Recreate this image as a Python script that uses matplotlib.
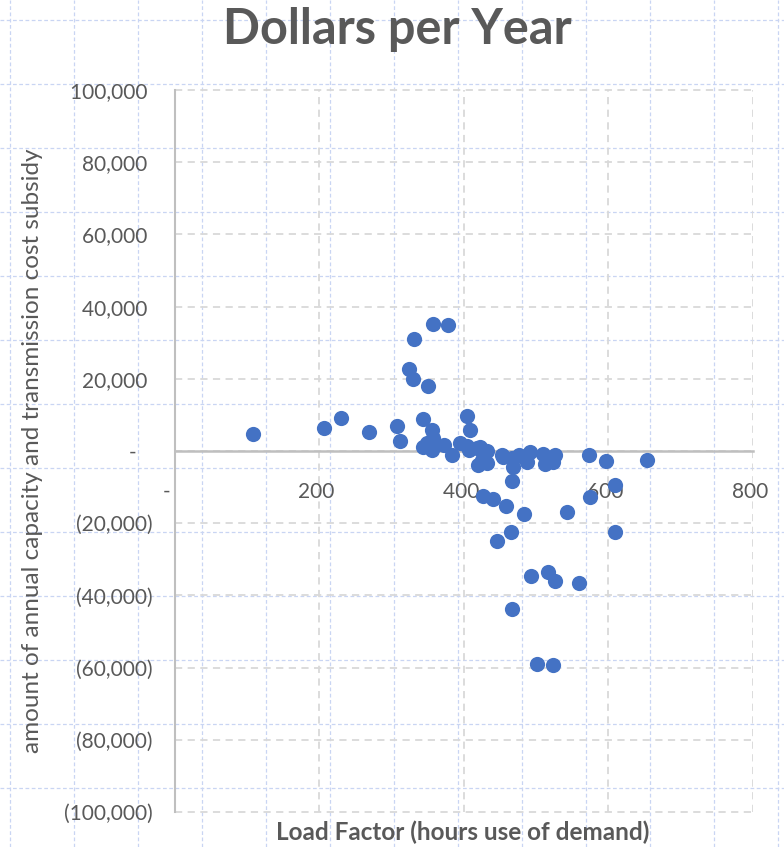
import numpy as np
import matplotlib
matplotlib.use('Agg')
import matplotlib.pyplot as plt
from matplotlib.ticker import FuncFormatter, MultipleLocator

# --Data--
load_factor = [108, 206, 230, 269, 308, 312, 331, 324, 330, 350, 357, 378,
               344, 356, 344, 356, 358, 349, 372, 384, 395, 405, 409, 404,
               407, 418, 423, 420, 425, 432, 432, 453, 455, 467, 468, 467,
               476, 483, 492, 487, 510, 513, 527, 524, 574, 597, 654, 610,
               575, 543, 427, 440, 459, 483, 465, 446, 609, 493, 517, 527,
               559, 467, 501, 523]
subsidy = [4700, 6300, 9200, 5200, 6800, 2900, 31000, 22700, 19900, 18000,
           35100, 34900, 9000, 5700, 1000, 300, 3500, 2100, 1700, -1100,
           2100, 9800, 5800, 1400, 300, 700, 1200, -3900, -2500, 100, -3400,
           -1200, -1600, -2000, -4300, -8200, -1100, -1600, -400, -3000,
           -800, -3600, -1100, -3000, -1100, -2800, -2500, -9400, -12700,
           -16800, -12600, -13400, -15200, -17500, -22300, -24800, -22500,
           -34700, -33600, -35900, -36500, -43700, -58900, -59300]

title = 'Dollars per Year'
x_label = 'Load Factor (hours use of demand)'
y_label = 'amount of annual capacity and transmission cost subsidy'

TEXT = '#595959'
BLUE = '#4472C4'
FONT = 'Lato'


def accounting(v, pos=None):
    if abs(v) < 1e-9:
        return '-   '
    if v < 0:
        return f'({-v:,.0f})'
    return f'{v:,.0f} '


fig = plt.figure(figsize=(7.84, 8.47), dpi=100)
fig.patch.set_facecolor('white')

# sheet cell grid behind the chart
bg = fig.add_axes([0, 0, 1, 1], zorder=0)
bg.set_xlim(0, 784)
bg.set_ylim(847, 0)
bg.axis('off')
for gx in np.arange(10, 784, 64):
    bg.axvline(gx, color='#c9d5f3', lw=0.9, ls=(0, (3, 2)))
for gy in np.arange(20, 847, 64):
    bg.axhline(gy, color='#c9d5f3', lw=0.9, ls=(0, (3, 2)))

ax = fig.add_axes([175 / 784, 1 - 812 / 847, (752.5 - 175) / 784, (812 - 90) / 847],
                  zorder=1)
ax.set_facecolor('none')
ax.scatter(load_factor, subsidy, s=120, color=BLUE, zorder=3, linewidths=0)

ax.set_xlim(0, 800)
ax.set_ylim(-100000, 100000)
ax.xaxis.set_major_locator(MultipleLocator(200))
ax.yaxis.set_major_locator(MultipleLocator(20000))
ax.xaxis.set_major_formatter(FuncFormatter(accounting))
ax.yaxis.set_major_formatter(FuncFormatter(accounting))

ax.grid(True, color='#d9d9d9', lw=1.3, ls=(0, (4, 3)), zorder=1)
for gl in ax.get_xgridlines() + ax.get_ygridlines():
    gl.set_clip_on(False)

for side in ['top', 'right']:
    ax.spines[side].set_visible(False)
ax.spines['left'].set_color('#bfbfbf')
ax.spines['left'].set_linewidth(1.5)
ax.spines['bottom'].set_position(('data', 0))
ax.spines['bottom'].set_color('#bfbfbf')
ax.spines['bottom'].set_linewidth(1.8)
ax.spines['bottom'].set_zorder(2)

ax.tick_params(axis='both', length=0, labelsize=15, labelcolor=TEXT)
ax.tick_params(axis='x', pad=22)
ax.tick_params(axis='y', pad=16)
for lbl in ax.get_xticklabels() + ax.get_yticklabels():
    lbl.set_fontfamily(FONT)

fig.text(397 / 784, 1 - 30 / 847, title, ha='center', va='center',
         fontsize=35, fontweight='bold', color=TEXT, family=FONT)
fig.text(463 / 784, 1 - 832 / 847, x_label, ha='center', va='center',
         fontsize=17.5, fontweight='bold', color=TEXT, family=FONT)
fig.text(33 / 784, 1 - 451 / 847, y_label, ha='center', va='center',
         rotation=90, fontsize=17.5, color=TEXT, family=FONT)

fig.savefig('out.png', dpi=100, facecolor='white')
